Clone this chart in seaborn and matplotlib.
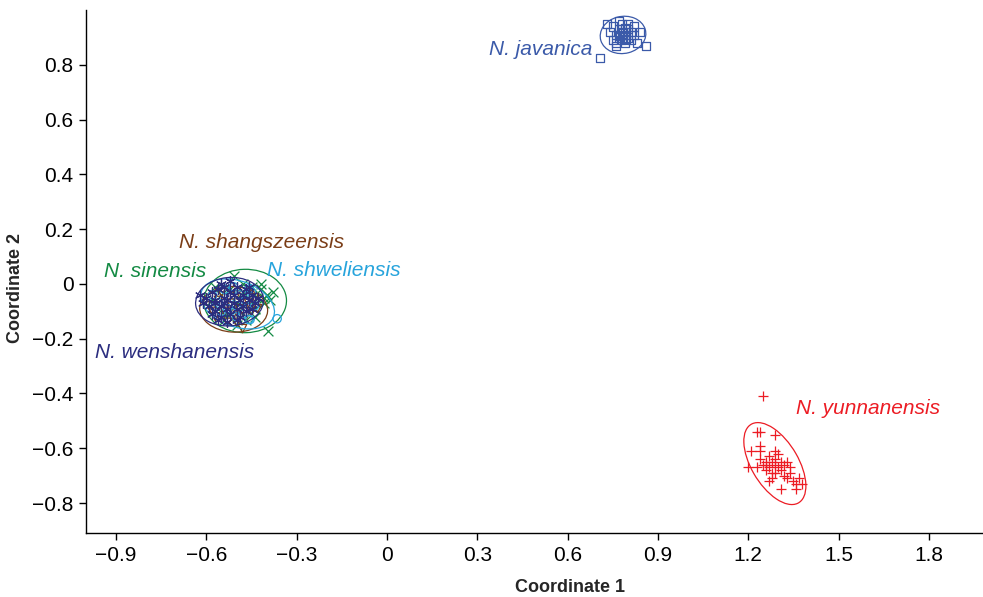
import numpy as np
import pandas as pd
import matplotlib.pyplot as plt
import seaborn as sns
from matplotlib.patches import Ellipse
from matplotlib.ticker import FuncFormatter

# point coordinates
javanica_x = [0.73, 0.74, 0.75, 0.75, 0.76, 0.76, 0.77, 0.77, 0.78, 0.78, 0.78, 0.79, 0.79, 0.80, 0.80,
              0.81, 0.81, 0.82, 0.82, 0.83, 0.84, 0.86, 0.707, 0.77, 0.80, 0.76, 0.79, 0.775, 0.785, 0.795]
javanica_y = [0.95, 0.92, 0.89, 0.94, 0.91, 0.88, 0.93, 0.90, 0.92, 0.89, 0.95, 0.91, 0.88, 0.93, 0.90,
              0.92, 0.89, 0.94, 0.91, 0.88, 0.92, 0.87, 0.826, 0.96, 0.95, 0.87, 0.935, 0.905, 0.915, 0.895]

yunnan_x = [1.23, 1.24, 1.29, 1.24, 1.21, 1.24, 1.29, 1.30, 1.24, 1.27, 1.26, 1.28, 1.31, 1.33, 1.20,
            1.23, 1.26, 1.27, 1.29, 1.32, 1.34, 1.26, 1.28, 1.31, 1.34, 1.28, 1.33, 1.35, 1.37, 1.31,
            1.36, 1.36, 1.27, 1.25, 1.29, 1.30, 1.25, 1.32, 1.29, 1.38]
yunnan_y = [-0.54, -0.54, -0.55, -0.59, -0.61, -0.61, -0.61, -0.62, -0.64, -0.63, -0.65, -0.65, -0.65, -0.65, -0.67,
            -0.67, -0.66, -0.67, -0.66, -0.66, -0.67, -0.68, -0.69, -0.68, -0.69, -0.71, -0.71, -0.72, -0.71, -0.75,
            -0.75, -0.73, -0.72, -0.41, -0.64, -0.67, -0.66, -0.70, -0.69, -0.73]

wenshan_x = [-0.60, -0.59, -0.58, -0.57, -0.57, -0.56, -0.55, -0.55, -0.54, -0.54, -0.53, -0.53, -0.52, -0.52,
             -0.51, -0.51, -0.50, -0.50, -0.49, -0.49, -0.48, -0.48, -0.47, -0.47, -0.46, -0.45, -0.45, -0.44,
             -0.43, -0.58, -0.56, -0.53, -0.50, -0.61, -0.62, -0.55, -0.52, -0.46, -0.57, -0.54]
wenshan_y = [-0.05, -0.08, -0.03, -0.10, -0.06, -0.02, -0.08, -0.12, -0.05, -0.01, -0.09, -0.06, -0.03, -0.11,
             -0.07, -0.04, -0.09, -0.01, -0.06, -0.12, -0.04, -0.08, -0.02, -0.10, -0.06, -0.04, -0.09, -0.07,
             -0.05, -0.11, -0.13, -0.14, -0.13, -0.07, -0.04, 0.00, 0.01, -0.01, -0.07, -0.07]

sinensis_x = [-0.58, -0.56, -0.55, -0.53, -0.52, -0.51, -0.50, -0.49, -0.48, -0.47, -0.46, -0.45, -0.44, -0.43,
              -0.42, -0.41, -0.40, -0.39, -0.38, -0.395, -0.48, -0.54, -0.50, -0.44, -0.57, -0.42, -0.41]
sinensis_y = [-0.06, -0.09, -0.04, -0.11, -0.02, 0.03, -0.07, -0.10, -0.03, -0.13, -0.06, -0.01, -0.09, -0.05,
              -0.02, -0.07, -0.04, -0.06, -0.03, -0.17, 0.00, -0.13, -0.15, -0.12, -0.01, 0.00, -0.05]

shweli_x = [-0.58, -0.56, -0.54, -0.53, -0.52, -0.51, -0.50, -0.49, -0.48, -0.47, -0.46, -0.455, -0.45, -0.44,
            -0.365, -0.55, -0.57, -0.50, -0.46]
shweli_y = [-0.04, -0.07, -0.02, -0.09, -0.05, -0.01, -0.08, -0.04, -0.11, -0.06, -0.13, -0.13, -0.03, -0.08,
            -0.127, -0.10, -0.08, -0.12, -0.02]

shangsz_x = [-0.59, -0.57, -0.56, -0.54, -0.53, -0.52, -0.51, -0.50, -0.49, -0.48, -0.47, -0.46, -0.45, -0.44,
             -0.43, -0.55, -0.50, -0.58]
shangsz_y = [-0.08, -0.12, -0.06, -0.10, -0.14, -0.07, -0.11, -0.04, -0.09, -0.163, -0.12, -0.07, -0.10, -0.05,
             -0.09, -0.03, -0.14, -0.10]

groups = {
    'N. javanica': (javanica_x, javanica_y),
    'N. yunnanensis': (yunnan_x, yunnan_y),
    'N. sinensis': (sinensis_x, sinensis_y),
    'N. shangszeensis': (shangsz_x, shangsz_y),
    'N. shweliensis': (shweli_x, shweli_y),
    'N. wenshanensis': (wenshan_x, wenshan_y),
}
colors = {
    'N. javanica': '#3b5aa9',
    'N. yunnanensis': '#ec1c24',
    'N. sinensis': '#138a43',
    'N. shangszeensis': '#7a3d17',
    'N. shweliensis': '#27a4dc',
    'N. wenshanensis': '#2b2d7f',
}
markers = {
    'N. javanica': 's',
    'N. yunnanensis': '+',
    'N. sinensis': 'x',
    'N. shangszeensis': 'v',
    'N. shweliensis': 'o',
    'N. wenshanensis': (6, 2, 0),
}
# label anchor (left edge, vertical centre) in data units
label_pos = {
    'N. javanica': (0.34, 0.855),
    'N. yunnanensis': (1.36, -0.455),
    'N. sinensis': (-0.94, 0.045),
    'N. shangszeensis': (-0.69, 0.152),
    'N. shweliensis': (-0.40, 0.05),
    'N. wenshanensis': (-0.97, -0.25),
}

sns.set_style('ticks')
plt.rcParams['font.family'] = ['Liberation Sans', 'DejaVu Sans']

fig = plt.figure(figsize=(9.83, 5.97), dpi=100)
ax = fig.add_axes([0.0875, 0.107, 0.9125, 0.876])


def conf_ellipse(x, y, color, n_std=2.3):
    x = np.asarray(x)
    y = np.asarray(y)
    cov = np.cov(x, y)
    vals, vecs = np.linalg.eigh(cov)
    order = vals.argsort()[::-1]
    vals, vecs = vals[order], vecs[:, order]
    angle = np.degrees(np.arctan2(vecs[1, 0], vecs[0, 0]))
    w, h = 2 * n_std * np.sqrt(vals)
    ax.add_patch(Ellipse((x.mean(), y.mean()), w, h, angle=angle,
                         fill=False, edgecolor=color, linewidth=0.9))


for name, (xs, ys) in groups.items():
    c = colors[name]
    m = markers[name]
    df = pd.DataFrame({'x': xs, 'y': ys})
    if m in ('s', 'v', 'o'):
        sns.scatterplot(data=df, x='x', y='y', marker=m, s=36, facecolor='none',
                        edgecolor=c, linewidth=0.9, ax=ax)
    else:
        sns.scatterplot(data=df, x='x', y='y', marker=m, s=50, color=c,
                        linewidth=0.9, ax=ax)
    conf_ellipse(xs, ys, c)
    lx, ly = label_pos[name]
    ax.text(lx, ly, name, color=c, fontsize=15, style='italic', va='center', ha='left')

ax.set_xlim(-1.0, 1.98)
ax.set_ylim(-0.91, 1.0)
ax.set_xticks(np.arange(-0.9, 1.81, 0.3))
ax.set_yticks(np.arange(-0.8, 0.81, 0.2))


def fmt(v, pos):
    s = '%g' % round(v, 2)
    if s in ('-0', '0'):
        return '0'
    return s.replace('-', '\u2212')


ax.xaxis.set_major_formatter(FuncFormatter(fmt))
ax.yaxis.set_major_formatter(FuncFormatter(fmt))
ax.tick_params(length=5, width=1, direction='out', colors='black', pad=4, labelsize=15)
ax.set_xlabel('Coordinate 1', fontsize=13, fontweight='bold')
ax.set_ylabel('Coordinate 2', fontsize=13, fontweight='bold')
ax.xaxis.set_label_coords(0.54, -0.087)
ax.yaxis.set_label_coords(-0.069, 0.468)
sns.despine(ax=ax)
for sp in ('left', 'bottom'):
    ax.spines[sp].set_linewidth(1)
    ax.spines[sp].set_color('black')

fig.savefig('out.png', dpi=100)
